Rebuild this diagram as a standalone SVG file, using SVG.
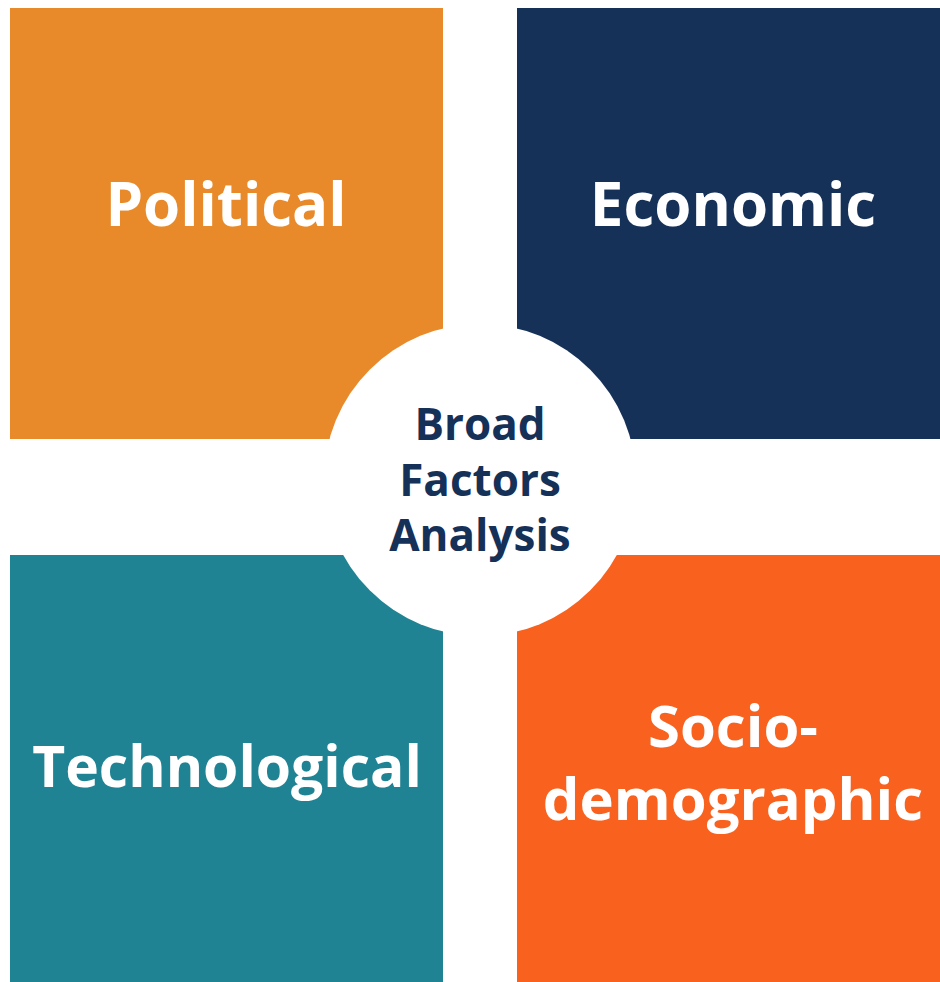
<svg xmlns="http://www.w3.org/2000/svg" width="940" height="982" viewBox="0 0 940 982">
<style>
.big{font-family:"Open Sans","Liberation Sans",sans-serif;font-weight:700;font-size:58px;fill:#ffffff;text-anchor:middle}
.ctr{font-family:"Open Sans","Liberation Sans",sans-serif;font-weight:700;font-size:44px;fill:#163158;text-anchor:middle}
</style>
<rect width="940" height="982" fill="#ffffff"/>
<g id="political">
<rect x="10" y="8" width="433" height="431" fill="#E98A2A"/>
<text class="big" x="226" y="226" style="font-size:60px">Political</text>
</g>
<g id="economic">
<rect x="517" y="8" width="423" height="431" fill="#163158"/>
<text class="big" x="733" y="226" style="font-size:60px">Economic</text>
</g>
<g id="technological">
<rect x="10" y="555" width="433" height="427" fill="#208394"/>
<text class="big" x="227" y="787" style="font-size:57px">Technological</text>
</g>
<g id="sociodemographic">
<rect x="517" y="555" width="423" height="427" fill="#F8621E"/>
<text class="big" x="733" y="747">Socio-</text>
<text class="big" x="733" y="820">demographic</text>
</g>
<g id="center">
<circle cx="480" cy="480" r="156" fill="#ffffff"/>
<text class="ctr" x="480" y="440">Broad</text>
<text class="ctr" x="480" y="496">Factors</text>
<text class="ctr" x="480" y="551">Analysis</text>
</g>
<g id="connectors"/>
</svg>
